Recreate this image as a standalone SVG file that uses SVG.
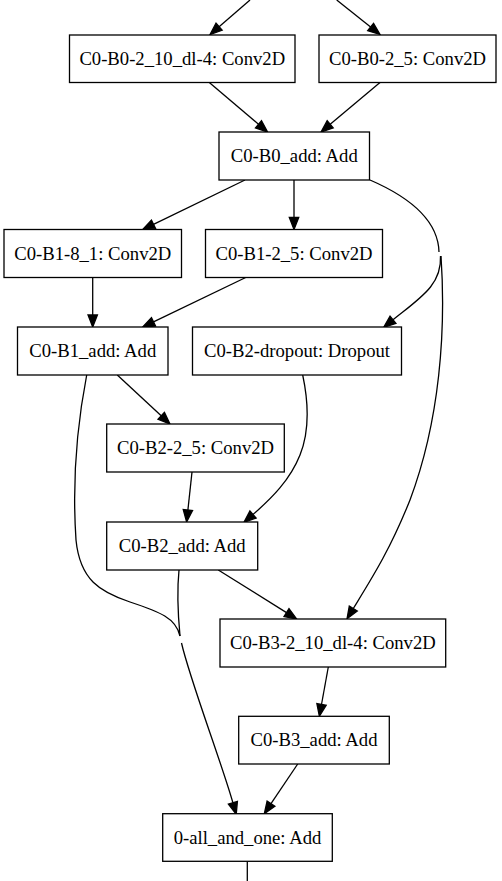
<svg xmlns="http://www.w3.org/2000/svg" width="502" height="881" viewBox="0 0 502 881">
<style>
.node rect{fill:#fff;stroke:#000;stroke-width:1.3}
.node text{font-family:"Liberation Serif","Times New Roman",serif;font-size:18.67px;fill:#000;text-anchor:middle}
.edge{fill:none;stroke:#000;stroke-width:1.3}
.arr{marker-end:url(#ah)}
</style>
<defs>
<marker id="ah" markerUnits="userSpaceOnUse" markerWidth="12" markerHeight="10" viewBox="0 0 12 10" refX="0" refY="5" orient="auto" overflow="visible">
<path d="M0,0.3 L12,5 L0,9.7 z" fill="#000" stroke="#000" stroke-width="1.3"/>
</marker>
</defs>
<rect width="502" height="881" fill="#fff"/>
<g id="connectors">
<path class="edge arr" d="M250,0 L219.1,26.7"/>
<path class="edge arr" d="M336.7,0 L370.6,27"/>
<path class="edge arr" d="M209.3,82.5 L258.5,124.3"/>
<path class="edge arr" d="M380,82.5 L330.2,124.3"/>
<path class="edge arr" d="M245,180 L153.5,224.3"/>
<path class="edge arr" d="M294,180 L294,217.5"/>
<path class="edge" d="M370,180 C400,193 438,215 439,252"/>
<path class="edge arr" d="M440.5,256 C442,285 420,298 393,319.8"/>
<path class="edge arr" d="M441,256 C446,330 440,420 410,500 C390,550 372,578 353.3,608.5"/>
<path class="edge arr" d="M92.7,277.5 L92.7,315"/>
<path class="edge arr" d="M245.7,277.5 L153.5,321.8"/>
<path class="edge arr" d="M117.3,375 L161.2,415.8"/>
<path class="edge arr" d="M302.7,375 C308,400 310,430 300,455 C290,480 272,498 253,514.5"/>
<path class="edge arr" d="M192,472 L187.9,510"/>
<path class="edge arr" d="M218.3,570 L286.5,612.6"/>
<path class="edge" d="M86.7,375 C78,420 72,480 76,540 C80,580 100,592 130,602 C160,612 176,618 180,636"/>
<path class="edge" d="M179,570 C177,590 178,615 180,636"/>
<path class="edge arr" d="M181.5,643 C190,680 220,758 232.9,802.7"/>
<path class="edge arr" d="M328.3,667 L321.5,704.5"/>
<path class="edge arr" d="M297.7,764 L271,803.7"/>
<path class="edge" d="M247.3,861.3 L247.3,881"/>
</g>
<g id="n_C0-B0-2_10_dl-4" class="node"><rect x="69.5" y="35" width="225.5" height="47.5"/><text x="182.25" y="64.5">C0-B0-2_10_dl-4: Conv2D</text></g>
<g id="n_C0-B0-2_5" class="node"><rect x="319" y="35" width="177" height="47.5"/><text x="407.5" y="64.5">C0-B0-2_5: Conv2D</text></g>
<g id="n_C0-B0_add" class="node"><rect x="219" y="132" width="150.5" height="48"/><text x="294.25" y="162">C0-B0_add: Add</text></g>
<g id="n_C0-B1-8_1" class="node"><rect x="4" y="229.5" width="177.5" height="48"/><text x="92.75" y="259.5">C0-B1-8_1: Conv2D</text></g>
<g id="n_C0-B1-2_5" class="node"><rect x="205.5" y="229.5" width="177" height="48"/><text x="294" y="259.5">C0-B1-2_5: Conv2D</text></g>
<g id="n_C0-B1_add" class="node"><rect x="17.5" y="327" width="150.5" height="48"/><text x="92.75" y="357">C0-B1_add: Add</text></g>
<g id="n_C0-B2-dropout" class="node"><rect x="192.5" y="327" width="209" height="48"/><text x="297" y="357">C0-B2-dropout: Dropout</text></g>
<g id="n_C0-B2-2_5" class="node"><rect x="106.7" y="424" width="177.6" height="48"/><text x="195.5" y="454">C0-B2-2_5: Conv2D</text></g>
<g id="n_C0-B2_add" class="node"><rect x="106.7" y="522" width="151" height="48"/><text x="182.2" y="552">C0-B2_add: Add</text></g>
<g id="n_C0-B3-2_10_dl-4" class="node"><rect x="220" y="619" width="225.7" height="48"/><text x="332.85" y="649">C0-B3-2_10_dl-4: Conv2D</text></g>
<g id="n_C0-B3_add" class="node"><rect x="238.7" y="716.3" width="150.6" height="47.7"/><text x="314" y="746">C0-B3_add: Add</text></g>
<g id="n_0-all_and_one" class="node"><rect x="162.7" y="813.7" width="169.6" height="47.6"/><text x="247.5" y="843.5">0-all_and_one: Add</text></g>
</svg>
